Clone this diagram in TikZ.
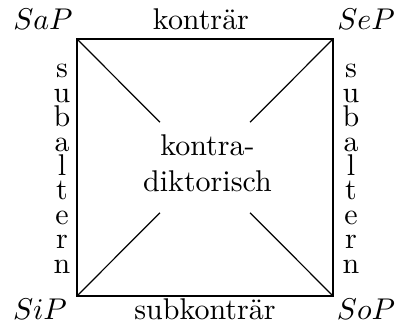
\documentclass[tikz,border=0pt]{standalone}
\begin{document}
\begin{tikzpicture}[x=0.3334pt,y=-0.3334pt,
  lbl/.style={anchor=base,inner sep=0pt},
  edge/.style={line width=0.4pt}]
\useasboundingbox (0,0) rectangle (403,335);
% corners
\coordinate (A) at (77,39);
\coordinate (B) at (333,39);
\coordinate (C) at (77,296);
\coordinate (D) at (333,296);
\coordinate (M) at (205,167.5);
% corner labels
\node[lbl] (sap) at (43,30) {$SaP$};
\node[lbl] (sep) at (366,30) {$SeP$};
\node[lbl] (sip) at (40,320) {$SiP$};
\node[lbl] (sop) at (366,320) {$SoP$};
% edge labels
\node[lbl] (kontr) at (201,30) {konträr};
\node[lbl] (subk) at (205,320) {subkonträr};
\node[align=center,inner sep=0pt] (kd) at (207.5,163) {kontra-\\diktorisch};
\foreach \c [count=\i] in {s,u,b,a,l,t,e,r,n}{
  \node[lbl] (L\i) at (62,{78+24.4*(\i-1)}) {\c};
  \node[lbl] (R\i) at (351,{78+24.4*(\i-1)}) {\c};
}
% square
\draw[edge] (A) -- (B) -- (D) -- (C) -- cycle;
% diagonals broken at the centre
\draw[edge,shorten >=21.3pt] (A) -- (M);
\draw[edge,shorten >=21.3pt] (B) -- (M);
\draw[edge,shorten >=21.3pt] (C) -- (M);
\draw[edge,shorten >=21.3pt] (D) -- (M);
\end{tikzpicture}
\end{document}
